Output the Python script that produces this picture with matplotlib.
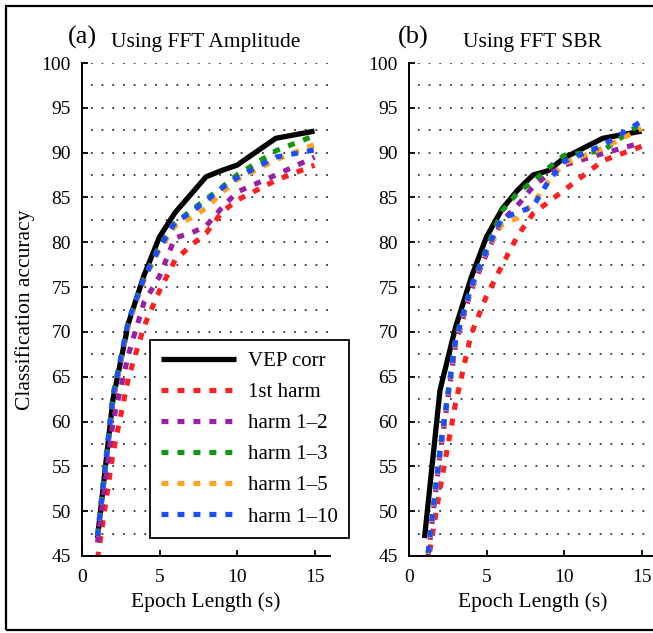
import matplotlib
matplotlib.use("Agg")
import matplotlib.pyplot as plt
from matplotlib.ticker import MultipleLocator
from matplotlib.patches import Rectangle

# === DATA ===
epoch = [1, 2, 3, 4, 5, 6, 7, 8, 9, 10, 12.5, 15]

labels = ["VEP corr", "1st harm", "harm 1\u20132", "harm 1\u20133", "harm 1\u20135", "harm 1\u201310"]
colors = ["#000000", "#ff1f1f", "#9b1fa6", "#149614", "#ffa01f", "#1a4fff"]

# panel (a): FFT amplitude
vep_a = [47.0, 62.5, 71.0, 76.3, 80.6, 83.3, 85.3, 87.3, 88.0, 88.6, 91.6, 92.4]
h1_a = [44.7, 56.5, 64.9, 70.6, 74.6, 78.0, 79.6, 81.0, 83.3, 84.7, 86.9, 88.6]
h12_a = [46.5, 60.0, 67.5, 73.3, 76.2, 80.5, 81.0, 81.8, 83.8, 85.6, 87.5, 89.5]
h13_a = [47.3, 63.0, 71.2, 76.0, 79.6, 82.1, 83.5, 84.8, 86.1, 87.5, 90.2, 91.9]
h15_a = [47.2, 62.5, 70.8, 75.8, 79.2, 81.8, 82.7, 83.8, 85.5, 87.0, 89.2, 90.9]
h110_a = [47.2, 62.8, 71.3, 76.0, 79.4, 82.2, 83.3, 84.6, 86.0, 87.2, 89.5, 90.3]

# panel (b): FFT SBR
vep_b = [47.0, 63.5, 70.5, 76.0, 80.6, 83.7, 85.8, 87.5, 88.0, 89.4, 91.6, 92.4]
h1_b = [42.0, 52.5, 62.0, 69.7, 74.0, 77.4, 80.7, 83.2, 84.5, 85.8, 89.1, 90.7]
h12_b = [41.5, 56.3, 68.6, 74.6, 78.7, 82.4, 84.1, 86.2, 87.6, 88.6, 89.9, 91.1]
h13_b = [41.8, 56.8, 69.2, 75.0, 79.3, 83.5, 85.5, 86.8, 88.3, 89.7, 90.2, 93.3]
h15_b = [41.7, 56.6, 68.8, 74.8, 79.0, 82.0, 82.7, 84.3, 86.8, 88.8, 90.5, 92.7]
h110_b = [41.8, 56.8, 69.0, 75.0, 79.1, 82.7, 83.3, 84.0, 86.8, 89.0, 90.8, 93.5]

# === STYLE ===
plt.rcParams["font.family"] = ["Liberation Serif", "DejaVu Serif"]
plt.rcParams["font.size"] = 14
plt.rcParams["lines.scale_dashes"] = False

W, H = 653, 633
fig = plt.figure(figsize=(W / 100, H / 100), dpi=100)


def px_box(left, top, right, bottom):
    return [left / W, 1 - bottom / H, (right - left) / W, (bottom - top) / H]


def setup(ax):
    ax.set_xlim(0, 16)
    ax.set_ylim(45, 100)
    ax.xaxis.set_major_locator(MultipleLocator(5))
    ax.yaxis.set_major_locator(MultipleLocator(5))
    ax.yaxis.set_minor_locator(MultipleLocator(2.5))
    ax.tick_params(which="major", direction="in", length=4, width=1.3, labelsize=14)
    ax.tick_params(axis="y", which="major", pad=8)
    ax.tick_params(axis="x", which="major", pad=9)
    ax.tick_params(which="minor", length=0)
    for s in ["top", "right"]:
        ax.spines[s].set_visible(False)
    for s in ["left", "bottom"]:
        ax.spines[s].set_linewidth(1.4)
    ax.yaxis.grid(True, which="both", color="#333333", linewidth=1.3,
                  linestyle=(1.3, (1.3, 6.4)))
    ax.set_axisbelow(True)
    ax.set_xlabel("Epoch Length (s)", fontsize=15.5, labelpad=5)


def draw(ax, series):
    lines = []
    for i, (vals, c, lab) in enumerate(zip(series, colors, labels)):
        if i == 0:
            ln, = ax.plot(epoch, vals, color=c, lw=3.8, label=lab, solid_capstyle="butt")
        else:
            ln, = ax.plot(epoch, vals, color=c, lw=3.7, label=lab,
                          linestyle=(0, (5, 6.5)), dash_capstyle="butt")
        lines.append(ln)
    return lines


ax1 = fig.add_axes(px_box(82, 63, 330, 556))
ax2 = fig.add_axes(px_box(409, 63, 657, 556))

setup(ax1)
setup(ax2)
ax1.set_ylabel("Classification accuracy", fontsize=15.5, labelpad=5)

handles = draw(ax1, [vep_a, h1_a, h12_a, h13_a, h15_a, h110_a])
draw(ax2, [vep_b, h1_b, h12_b, h13_b, h15_b, h110_b])

leg = ax1.legend(handles=handles, loc="lower left",
                 bbox_to_anchor=(150 / W, 1 - 538 / H), bbox_transform=fig.transFigure,
                 fontsize=15, handlelength=3.6, handletextpad=0.55, labelspacing=0.55,
                 borderpad=0.55, fancybox=False, framealpha=1, borderaxespad=0)
leg.get_frame().set_edgecolor("black")
leg.get_frame().set_linewidth(1.3)

# panel titles
fig.text(82 / W, 1 - 37 / H, "(a)", fontsize=19, ha="center", va="center")
fig.text(206 / W, 1 - 42 / H, "Using FFT Amplitude", fontsize=15.5, ha="center", va="center")
fig.text(413 / W, 1 - 37 / H, "(b)", fontsize=19, ha="center", va="center")
fig.text(532 / W, 1 - 42 / H, "Using FFT SBR", fontsize=15.5, ha="center", va="center")

# outer frame
fig.patches.append(Rectangle((6 / W, 1 - 630 / H), 660 / W, 624 / H, transform=fig.transFigure,
                             fill=False, edgecolor="black", linewidth=1.6))

fig.savefig("out.png", dpi=100)
